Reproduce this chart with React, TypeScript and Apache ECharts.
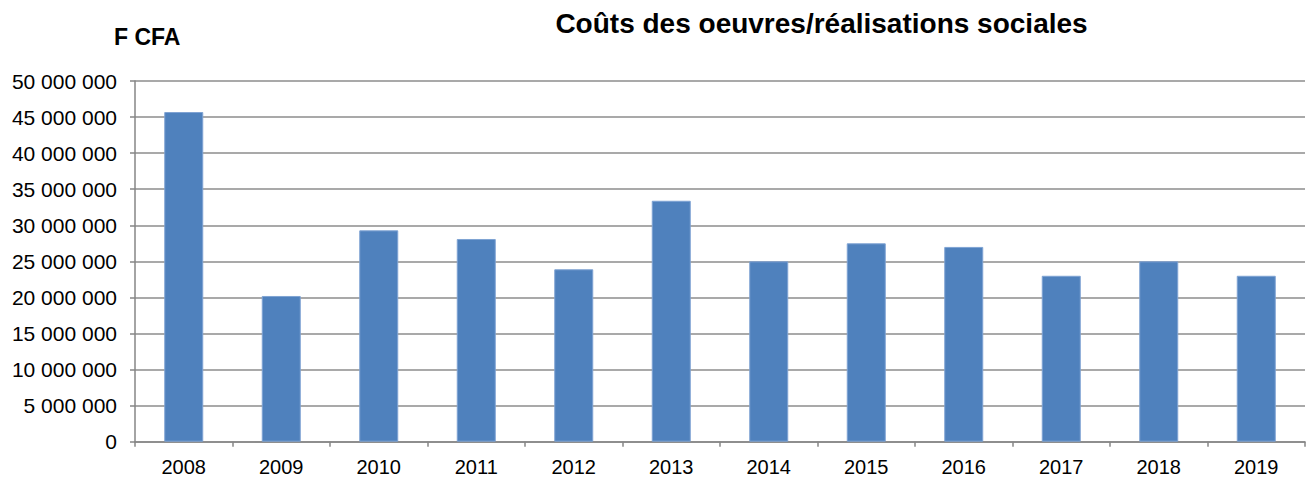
import React, { useEffect, useRef } from "react";
import * as echarts from "echarts";

const categories = ["2008", "2009", "2010", "2011", "2012", "2013", "2014", "2015", "2016", "2017", "2018", "2019"];
const costs = [45700000, 20200000, 29300000, 28100000, 23900000, 33400000, 25000000, 27500000, 27000000, 23000000, 25000000, 23000000];
const titleText = "Coûts des oeuvres/réalisations sociales";
const unitText = "F CFA";

const fmt = (v: number) => String(Math.round(v)).replace(/\B(?=(\d{3})+(?!\d))/g, " ");

export default function App() {
  const ref = useRef<HTMLDivElement>(null);
  useEffect(() => {
    if (!ref.current) return;
    const chart = echarts.init(ref.current, null, { renderer: "svg" });
    const font = "'Liberation Sans', Arial, sans-serif";
    chart.setOption({
      animation: false,
      backgroundColor: "#ffffff",
      textStyle: { fontFamily: font },
      graphic: [
        {
          type: "text",
          x: 821.5,
          y: 23.5,
          style: {
            text: titleText,
            fontFamily: font,
            fontSize: 28,
            fontWeight: "bold",
            fill: "#000",
            textAlign: "center",
            textVerticalAlign: "middle",
          },
        },
        {
          type: "text",
          x: 114,
          y: 37,
          style: {
            text: unitText,
            fontFamily: font,
            fontSize: 23,
            fontWeight: "bold",
            fill: "#000",
            textAlign: "left",
            textVerticalAlign: "middle",
          },
        },
      ],
      grid: { left: 135, right: 8, top: 81, bottom: 35.3, containLabel: false },
      xAxis: {
        type: "category",
        data: categories,
        axisLine: { lineStyle: { color: "#868686", width: 1.5 } },
        axisTick: { show: true, alignWithLabel: false, length: 5, lineStyle: { color: "#868686", width: 1.5 } },
        axisLabel: { fontFamily: font, fontSize: 20, color: "#000", margin: 15 },
      },
      yAxis: {
        type: "value",
        min: 0,
        max: 50000000,
        interval: 5000000,
        axisLine: { show: true, lineStyle: { color: "#868686", width: 1.5 } },
        axisTick: { show: true, length: 5, lineStyle: { color: "#868686", width: 1.5 } },
        splitLine: { show: true, lineStyle: { color: "#8c8c8c", width: 1.5 } },
        axisLabel: { fontFamily: font, fontSize: 21, color: "#000", margin: 18, formatter: (v: number) => fmt(v) },
      },
      series: [
        {
          type: "bar",
          data: costs,
          barWidth: "40%",
          itemStyle: { color: "#4F81BD", borderColor: "#7FA3D3", borderWidth: 1 },
        },
      ],
    });
    return () => chart.dispose();
  }, []);
  return <div ref={ref} style={{ position: "fixed", left: 0, top: 0, width: 1313, height: 477 }} />;
}
